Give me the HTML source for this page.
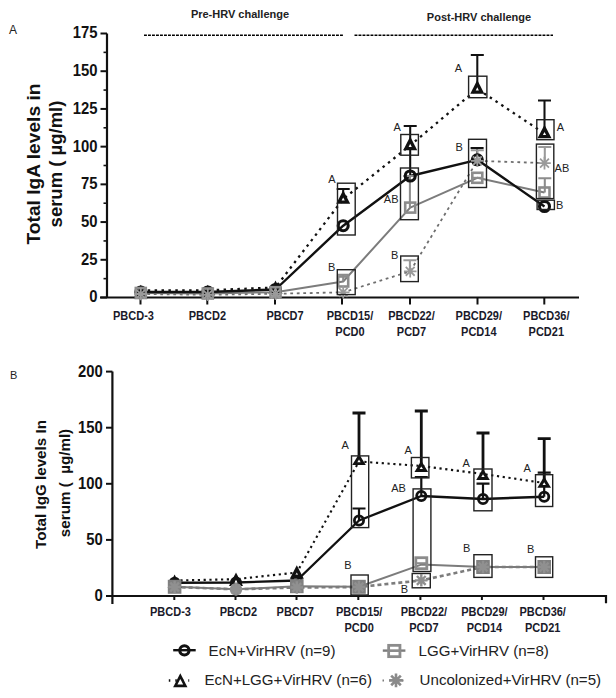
<!DOCTYPE html>
<html><head><meta charset="utf-8"><style>
html,body{margin:0;padding:0;background:#fff;}
body{width:616px;height:698px;overflow:hidden;}
svg{display:block;font-family:"Liberation Sans",sans-serif;}
</style></head><body>
<svg width="616" height="698" viewBox="0 0 616 698">
<rect width="616" height="698" fill="#fff"/>
<path d="M107 33.5V297.5M100 297.5H579" stroke="#111" stroke-width="2.2" fill="none"/>
<path d="M100.5 297.5H107" stroke="#111" stroke-width="2"/>
<text transform="translate(97.4,302.4) scale(0.9,1)" font-size="16.5" text-anchor="end" fill="#111" font-weight="bold">0</text>
<path d="M100.5 259.79H107" stroke="#111" stroke-width="2"/>
<text transform="translate(97.4,264.69) scale(0.9,1)" font-size="16.5" text-anchor="end" fill="#111" font-weight="bold">25</text>
<path d="M100.5 222.07H107" stroke="#111" stroke-width="2"/>
<text transform="translate(97.4,226.97) scale(0.9,1)" font-size="16.5" text-anchor="end" fill="#111" font-weight="bold">50</text>
<path d="M100.5 184.36H107" stroke="#111" stroke-width="2"/>
<text transform="translate(97.4,189.26) scale(0.9,1)" font-size="16.5" text-anchor="end" fill="#111" font-weight="bold">75</text>
<path d="M100.5 146.64H107" stroke="#111" stroke-width="2"/>
<text transform="translate(97.4,151.54) scale(0.9,1)" font-size="16.5" text-anchor="end" fill="#111" font-weight="bold">100</text>
<path d="M100.5 108.93H107" stroke="#111" stroke-width="2"/>
<text transform="translate(97.4,113.83) scale(0.9,1)" font-size="16.5" text-anchor="end" fill="#111" font-weight="bold">125</text>
<path d="M100.5 71.21H107" stroke="#111" stroke-width="2"/>
<text transform="translate(97.4,76.11) scale(0.9,1)" font-size="16.5" text-anchor="end" fill="#111" font-weight="bold">150</text>
<path d="M100.5 33.5H107" stroke="#111" stroke-width="2"/>
<text transform="translate(97.4,38.4) scale(0.9,1)" font-size="16.5" text-anchor="end" fill="#111" font-weight="bold">175</text>
<path d="M103.5 278.64H107" stroke="#111" stroke-width="1.6"/>
<path d="M103.5 240.93H107" stroke="#111" stroke-width="1.6"/>
<path d="M103.5 203.21H107" stroke="#111" stroke-width="1.6"/>
<path d="M103.5 165.5H107" stroke="#111" stroke-width="1.6"/>
<path d="M103.5 127.79H107" stroke="#111" stroke-width="1.6"/>
<path d="M103.5 90.07H107" stroke="#111" stroke-width="1.6"/>
<path d="M103.5 52.36H107" stroke="#111" stroke-width="1.6"/>
<path d="M140.5 297.5V304.5" stroke="#111" stroke-width="2"/>
<path d="M207.3 297.5V304.5" stroke="#111" stroke-width="2"/>
<path d="M275 297.5V304.5" stroke="#111" stroke-width="2"/>
<path d="M342 297.5V304.5" stroke="#111" stroke-width="2"/>
<path d="M410 297.5V304.5" stroke="#111" stroke-width="2"/>
<path d="M477.5 297.5V304.5" stroke="#111" stroke-width="2"/>
<path d="M544.3 297.5V304.5" stroke="#111" stroke-width="2"/>
<text transform="translate(133.5,320.3) scale(0.91,1)" font-size="12.1" text-anchor="middle" fill="#1a1a2a" font-weight="bold">PBCD-3</text>
<text transform="translate(207.4,320.3) scale(0.91,1)" font-size="12.1" text-anchor="middle" fill="#1a1a2a" font-weight="bold">PBCD2</text>
<text transform="translate(285,320.3) scale(0.91,1)" font-size="12.1" text-anchor="middle" fill="#1a1a2a" font-weight="bold">PBCD7</text>
<text transform="translate(350,320.3) scale(0.91,1)" font-size="12.1" text-anchor="middle" fill="#1a1a2a" font-weight="bold">PBCD15/</text>
<text transform="translate(350,335.8) scale(0.91,1)" font-size="12.1" text-anchor="middle" fill="#1a1a2a" font-weight="bold">PCD0</text>
<text transform="translate(411.5,320.3) scale(0.91,1)" font-size="12.1" text-anchor="middle" fill="#1a1a2a" font-weight="bold">PBCD22/</text>
<text transform="translate(411.5,335.8) scale(0.91,1)" font-size="12.1" text-anchor="middle" fill="#1a1a2a" font-weight="bold">PCD7</text>
<text transform="translate(478.8,320.3) scale(0.91,1)" font-size="12.1" text-anchor="middle" fill="#1a1a2a" font-weight="bold">PBCD29/</text>
<text transform="translate(478.8,335.8) scale(0.91,1)" font-size="12.1" text-anchor="middle" fill="#1a1a2a" font-weight="bold">PCD14</text>
<text transform="translate(546.3,320.3) scale(0.91,1)" font-size="12.1" text-anchor="middle" fill="#1a1a2a" font-weight="bold">PBCD36/</text>
<text transform="translate(546.3,335.8) scale(0.91,1)" font-size="12.1" text-anchor="middle" fill="#1a1a2a" font-weight="bold">PCD21</text>
<text transform="translate(40,164) rotate(-90)" font-size="19.2" font-weight="bold" text-anchor="middle" fill="#111">Total IgA levels in</text>
<text transform="translate(62,164) rotate(-90)" font-size="18.5" font-weight="bold" text-anchor="middle" fill="#111">serum ( µg/ml)</text>
<text x="240" y="18" font-size="11" text-anchor="middle" fill="#222" font-weight="bold">Pre-HRV challenge</text>
<text x="479" y="21" font-size="11" text-anchor="middle" fill="#222" font-weight="bold">Post-HRV challenge</text>
<path d="M144 35.3H343M354.5 35.3H553" stroke="#000" stroke-width="1.4" stroke-dasharray="2.9 1.1"/>
<text x="9" y="33.5" font-size="12" text-anchor="start" fill="#222" font-weight="normal">A</text>
<polyline points="140.8,294 207.8,294.8 275.5,293.8 343.2,292.3 410.2,271.3 477.3,160.8 544.5,163.1" fill="none" stroke="#6e6e6e" stroke-width="1.8" stroke-linecap="butt" stroke-linejoin="round" stroke-dasharray="2.8 3.7"/>
<polyline points="140.8,293 207.8,293.5 275.5,292.2 343.2,281.5 410.2,207.6 477.3,177.8 544.5,192.5" fill="none" stroke="#7c7c7c" stroke-width="2" stroke-linecap="butt" stroke-linejoin="round"/>
<polyline points="140.8,290.3 207.8,290.3 275.5,287.5 343.2,199 410.2,145.4 477.3,88.9 544.5,133.5" fill="none" stroke="#111" stroke-width="2.3" stroke-linecap="butt" stroke-linejoin="round" stroke-dasharray="2.5 4.4"/>
<polyline points="140.8,292 207.8,292 275.5,289.5 343.2,225.7 410.2,176 477.3,159.8 544.5,206.5" fill="none" stroke="#111" stroke-width="2.4" stroke-linecap="butt" stroke-linejoin="round"/>
<path d="M343.2 197V189M336.7 189H349.7" stroke="#111" stroke-width="2.05" fill="none"/>
<path d="M410.2 176V126M403.7 126H416.7" stroke="#111" stroke-width="2.05" fill="none"/>
<path d="M477.3 86.9V54.9M470.8 54.9H483.8" stroke="#111" stroke-width="2.05" fill="none"/>
<path d="M544.5 131.5V100.5M538 100.5H551" stroke="#111" stroke-width="2.05" fill="none"/>
<path d="M477.1 159.8V147.9M470.6 147.9H483.6" stroke="#111" stroke-width="2.05" fill="none"/>
<path d="M343.2 281.5V274.8M337.7 274.8H348.7" stroke="#8c8c8c" stroke-width="2.05" fill="none"/>
<path d="M409.9 207.6V176M403.4 176H416.4" stroke="#8c8c8c" stroke-width="2.05" fill="none"/>
<path d="M409.9 271.3V260.3M403.4 260.3H416.4" stroke="#9a9a9a" stroke-width="2.05" fill="none"/>
<path d="M477.3 160.8V150.3M470.8 150.3H483.8" stroke="#9a9a9a" stroke-width="2.05" fill="none"/>
<path d="M544.8 163.1V147M538.3 147H551.3" stroke="#9a9a9a" stroke-width="2.05" fill="none"/>
<path d="M544.8 192.5V178.2M538.3 178.2H551.3" stroke="#8c8c8c" stroke-width="2.05" fill="none"/>
<polygon points="140.8,284.7 147.8,298.3 133.8,298.3" fill="#111"/>
<polygon points="140.8,291.91 142.39,295 139.21,295" fill="#fff"/>
<polygon points="207.8,284.7 214.8,298.3 200.8,298.3" fill="#111"/>
<polygon points="207.8,291.91 209.39,295 206.21,295" fill="#fff"/>
<polygon points="275.5,280.4 282.5,294 268.5,294" fill="#111"/>
<polygon points="275.5,287.61 277.09,290.7 273.91,290.7" fill="#fff"/>
<polygon points="343.2,190.2 350.2,203.8 336.2,203.8" fill="#111"/>
<polygon points="343.2,197.41 344.79,200.5 341.61,200.5" fill="#fff"/>
<polygon points="410.2,136.6 417.2,150.2 403.2,150.2" fill="#111"/>
<polygon points="410.2,143.81 411.79,146.9 408.61,146.9" fill="#fff"/>
<polygon points="477.3,80.1 484.3,93.7 470.3,93.7" fill="#111"/>
<polygon points="477.3,87.31 478.89,90.4 475.71,90.4" fill="#fff"/>
<polygon points="544.5,124.7 551.5,138.3 537.5,138.3" fill="#111"/>
<polygon points="544.5,131.91 546.09,135 542.91,135" fill="#fff"/>
<circle cx="140.8" cy="292" r="5.0" fill="none" stroke="#111" stroke-width="3.1"/>
<circle cx="207.8" cy="292" r="5.0" fill="none" stroke="#111" stroke-width="3.1"/>
<circle cx="275.5" cy="289.5" r="5.0" fill="none" stroke="#111" stroke-width="3.1"/>
<circle cx="343.2" cy="225.7" r="5.0" fill="none" stroke="#111" stroke-width="3.1"/>
<circle cx="410.2" cy="176" r="5.0" fill="none" stroke="#111" stroke-width="3.1"/>
<circle cx="477.3" cy="159.8" r="5.0" fill="none" stroke="#111" stroke-width="3.1"/>
<circle cx="544.5" cy="206.5" r="5.0" fill="none" stroke="#111" stroke-width="3.1"/>
<rect x="135.8" y="288" width="10" height="10" fill="none" stroke="#8c8c8c" stroke-width="2.6"/>
<rect x="202.8" y="288.5" width="10" height="10" fill="none" stroke="#8c8c8c" stroke-width="2.6"/>
<rect x="270.5" y="287.2" width="10" height="10" fill="none" stroke="#8c8c8c" stroke-width="2.6"/>
<rect x="338.2" y="276.5" width="10" height="10" fill="none" stroke="#8c8c8c" stroke-width="2.6"/>
<rect x="405.2" y="202.6" width="10" height="10" fill="none" stroke="#8c8c8c" stroke-width="2.6"/>
<rect x="472.3" y="172.8" width="10" height="10" fill="none" stroke="#8c8c8c" stroke-width="2.6"/>
<path d="M472.3 177.8H482.3" stroke="#8c8c8c" stroke-width="2"/>
<rect x="539.5" y="187.5" width="10" height="10" fill="none" stroke="#8c8c8c" stroke-width="2.6"/>
<path d="M134.5 294L147.1 294M136.35 289.55L145.25 298.45M140.8 287.7L140.8 300.3M145.25 289.55L136.35 298.45" stroke="#9a9a9a" stroke-width="1.8" fill="none"/>
<path d="M201.5 294.8L214.1 294.8M203.35 290.35L212.25 299.25M207.8 288.5L207.8 301.1M212.25 290.35L203.35 299.25" stroke="#9a9a9a" stroke-width="1.8" fill="none"/>
<path d="M269.2 293.8L281.8 293.8M271.05 289.35L279.95 298.25M275.5 287.5L275.5 300.1M279.95 289.35L271.05 298.25" stroke="#9a9a9a" stroke-width="1.8" fill="none"/>
<path d="M336.9 292.3L349.5 292.3M338.75 287.85L347.65 296.75M343.2 286L343.2 298.6M347.65 287.85L338.75 296.75" stroke="#9a9a9a" stroke-width="1.8" fill="none"/>
<path d="M403.9 271.3L416.5 271.3M405.75 266.85L414.65 275.75M410.2 265L410.2 277.6M414.65 266.85L405.75 275.75" stroke="#9a9a9a" stroke-width="1.8" fill="none"/>
<path d="M471 160.8L483.6 160.8M472.85 156.35L481.75 165.25M477.3 154.5L477.3 167.1M481.75 156.35L472.85 165.25" stroke="#9a9a9a" stroke-width="1.8" fill="none"/>
<path d="M538.2 163.1L550.8 163.1M540.05 158.65L548.95 167.55M544.5 156.8L544.5 169.4M548.95 158.65L540.05 167.55" stroke="#9a9a9a" stroke-width="1.8" fill="none"/>
<rect x="337.5" y="183.2" width="17.7" height="51.8" fill="none" stroke="#222" stroke-width="1.4"/>
<text x="328.3" y="183.3" font-size="11" text-anchor="start" fill="#222" font-weight="normal">A</text>
<rect x="337.3" y="269.7" width="17.9" height="24.9" fill="none" stroke="#222" stroke-width="1.4"/>
<text x="328" y="271.3" font-size="11" text-anchor="start" fill="#222" font-weight="normal">B</text>
<rect x="400.8" y="134.5" width="17.6" height="20.7" fill="none" stroke="#222" stroke-width="1.4"/>
<text x="393.5" y="130.8" font-size="11" text-anchor="start" fill="#222" font-weight="normal">A</text>
<rect x="400.5" y="168" width="17.9" height="51.7" fill="none" stroke="#222" stroke-width="1.4"/>
<text x="383.8" y="203.2" font-size="11" text-anchor="start" fill="#222" font-weight="normal">AB</text>
<rect x="400.7" y="256" width="17.6" height="25.6" fill="none" stroke="#222" stroke-width="1.4"/>
<text x="391" y="259.4" font-size="11" text-anchor="start" fill="#222" font-weight="normal">B</text>
<rect x="468.6" y="76.2" width="18.3" height="21.5" fill="none" stroke="#222" stroke-width="1.4"/>
<text x="454.8" y="71.8" font-size="11" text-anchor="start" fill="#222" font-weight="normal">A</text>
<rect x="468.6" y="139.3" width="17.9" height="48.2" fill="none" stroke="#222" stroke-width="1.4"/>
<text x="455.5" y="151.4" font-size="11" text-anchor="start" fill="#222" font-weight="normal">B</text>
<rect x="536.8" y="119.7" width="17.2" height="20" fill="none" stroke="#222" stroke-width="1.4"/>
<text x="556.7" y="130.6" font-size="11" text-anchor="start" fill="#222" font-weight="normal">A</text>
<rect x="536.4" y="144.1" width="17.4" height="54.5" fill="none" stroke="#222" stroke-width="1.4"/>
<text x="554.6" y="172.4" font-size="11" text-anchor="start" fill="#222" font-weight="normal">AB</text>
<rect x="537.1" y="200.2" width="17.3" height="9.3" fill="none" stroke="#222" stroke-width="1.4"/>
<text x="556" y="208.9" font-size="11" text-anchor="start" fill="#222" font-weight="normal">B</text>
<path d="M112.4 371.6V604M106 596H606V603.3" stroke="#111" stroke-width="2.2" fill="none"/>
<path d="M106 596H112.4" stroke="#111" stroke-width="2"/>
<text transform="translate(102.8,600.9) scale(0.9,1)" font-size="16.5" text-anchor="end" fill="#111" font-weight="bold">0</text>
<path d="M106 539.9H112.4" stroke="#111" stroke-width="2"/>
<text transform="translate(102.8,544.8) scale(0.9,1)" font-size="16.5" text-anchor="end" fill="#111" font-weight="bold">50</text>
<path d="M106 483.8H112.4" stroke="#111" stroke-width="2"/>
<text transform="translate(102.8,488.7) scale(0.9,1)" font-size="16.5" text-anchor="end" fill="#111" font-weight="bold">100</text>
<path d="M106 427.7H112.4" stroke="#111" stroke-width="2"/>
<text transform="translate(102.8,432.6) scale(0.9,1)" font-size="16.5" text-anchor="end" fill="#111" font-weight="bold">150</text>
<path d="M106 371.6H112.4" stroke="#111" stroke-width="2"/>
<text transform="translate(102.8,376.5) scale(0.9,1)" font-size="16.5" text-anchor="end" fill="#111" font-weight="bold">200</text>
<path d="M174.3 596V600" stroke="#111" stroke-width="2"/>
<path d="M235.5 596V600" stroke="#111" stroke-width="2"/>
<path d="M296.5 596V600" stroke="#111" stroke-width="2"/>
<path d="M358.3 596V600" stroke="#111" stroke-width="2"/>
<path d="M420.4 596V600" stroke="#111" stroke-width="2"/>
<path d="M481.9 596V600" stroke="#111" stroke-width="2"/>
<path d="M543.5 596V600" stroke="#111" stroke-width="2"/>
<text transform="translate(170.5,616.3) scale(0.91,1)" font-size="12.1" text-anchor="middle" fill="#1a1a2a" font-weight="bold">PBCD-3</text>
<text transform="translate(238.4,616.3) scale(0.91,1)" font-size="12.1" text-anchor="middle" fill="#1a1a2a" font-weight="bold">PBCD2</text>
<text transform="translate(295.2,616.3) scale(0.91,1)" font-size="12.1" text-anchor="middle" fill="#1a1a2a" font-weight="bold">PBCD7</text>
<text transform="translate(359.2,616.3) scale(0.91,1)" font-size="12.1" text-anchor="middle" fill="#1a1a2a" font-weight="bold">PBCD15/</text>
<text transform="translate(359.2,631.6) scale(0.91,1)" font-size="12.1" text-anchor="middle" fill="#1a1a2a" font-weight="bold">PCD0</text>
<text transform="translate(423.9,616.3) scale(0.91,1)" font-size="12.1" text-anchor="middle" fill="#1a1a2a" font-weight="bold">PBCD22/</text>
<text transform="translate(423.9,631.6) scale(0.91,1)" font-size="12.1" text-anchor="middle" fill="#1a1a2a" font-weight="bold">PCD7</text>
<text transform="translate(484.4,616.3) scale(0.91,1)" font-size="12.1" text-anchor="middle" fill="#1a1a2a" font-weight="bold">PBCD29/</text>
<text transform="translate(484.4,631.6) scale(0.91,1)" font-size="12.1" text-anchor="middle" fill="#1a1a2a" font-weight="bold">PCD14</text>
<text transform="translate(542.7,616.3) scale(0.91,1)" font-size="12.1" text-anchor="middle" fill="#1a1a2a" font-weight="bold">PBCD36/</text>
<text transform="translate(542.7,631.6) scale(0.91,1)" font-size="12.1" text-anchor="middle" fill="#1a1a2a" font-weight="bold">PCD21</text>
<text transform="translate(46.2,484.5) rotate(-90)" font-size="15.2" font-weight="bold" text-anchor="middle" fill="#111">Total IgG levels In</text>
<text transform="translate(70.4,483) rotate(-90)" font-size="15.2" font-weight="bold" text-anchor="middle" fill="#111" style="white-space:pre">serum (  µg/ml)</text>
<text x="10" y="378.5" font-size="11" text-anchor="start" fill="#222" font-weight="normal">B</text>
<polyline points="174.6,587 236,589.3 296.8,587.5 359,587 421.3,580.4 483,567 544.2,567" fill="none" stroke="#7c7c7c" stroke-width="2.6" stroke-linecap="butt" stroke-linejoin="round" stroke-dasharray="4 3"/>
<polyline points="174.6,586.8 236,589.3 296.8,586.2 359,586.8 421.3,564.6 483,567 544.2,567" fill="none" stroke="#7c7c7c" stroke-width="2" stroke-linecap="butt" stroke-linejoin="round"/>
<polyline points="174.6,580.5 236,579.2 296.8,572.5 359,461.5 421.3,466 483,474 544.2,483" fill="none" stroke="#111" stroke-width="2.1" stroke-linecap="butt" stroke-linejoin="round" stroke-dasharray="2.2 3.6"/>
<polyline points="174.6,582.7 236,582.5 296.8,580.5 359,520.5 421.3,496 483,499 544.2,496.7" fill="none" stroke="#111" stroke-width="2.4" stroke-linecap="butt" stroke-linejoin="round"/>
<path d="M359 459.5V413M352.5 413H365.5" stroke="#111" stroke-width="2.8" fill="none"/>
<path d="M421.3 466.4V411M414.8 411H427.8" stroke="#111" stroke-width="2.8" fill="none"/>
<path d="M483 474.3V433M476.5 433H489.5" stroke="#111" stroke-width="2.8" fill="none"/>
<path d="M544.2 482.2V438.6M537.7 438.6H550.7" stroke="#111" stroke-width="2.8" fill="none"/>
<path d="M359 520.5V508.5M352.5 508.5H365.5" stroke="#111" stroke-width="2.2" fill="none"/>
<path d="M421.3 496V477M414.8 477H427.8" stroke="#111" stroke-width="2.2" fill="none"/>
<path d="M483 499V483.6M476.5 483.6H489.5" stroke="#111" stroke-width="2.2" fill="none"/>
<path d="M544.2 496.7V472.7M537.7 472.7H550.7" stroke="#111" stroke-width="2.2" fill="none"/>
<polygon points="174.6,574.5 181.6,588.1 167.6,588.1" fill="#111"/>
<polygon points="174.6,581.71 176.19,584.8 173.01,584.8" fill="#fff"/>
<polygon points="236,572.5 243,586.1 229,586.1" fill="#111"/>
<polygon points="236,579.71 237.59,582.8 234.41,582.8" fill="#fff"/>
<polygon points="296.8,565.2 303.8,578.8 289.8,578.8" fill="#111"/>
<polygon points="296.8,572.41 298.39,575.5 295.21,575.5" fill="#fff"/>
<polygon points="359,453.9 365.8,465.1 352.2,465.1" fill="#111"/>
<polygon points="359,459.49 360.65,462.2 357.35,462.2" fill="#fff"/>
<polygon points="421.3,460.8 428.1,472 414.5,472" fill="#111"/>
<polygon points="421.3,466.39 422.95,469.1 419.65,469.1" fill="#fff"/>
<polygon points="483,468.7 489.8,479.9 476.2,479.9" fill="#111"/>
<polygon points="483,474.29 484.65,477 481.35,477" fill="#fff"/>
<polygon points="544.2,476.6 551,487.8 537.4,487.8" fill="#111"/>
<polygon points="544.2,482.19 545.85,484.9 542.55,484.9" fill="#fff"/>
<circle cx="174.6" cy="582.7" r="4.6" fill="none" stroke="#111" stroke-width="2.8"/>
<circle cx="236" cy="582.5" r="4.6" fill="none" stroke="#111" stroke-width="2.8"/>
<circle cx="296.8" cy="580.5" r="4.6" fill="none" stroke="#111" stroke-width="2.8"/>
<circle cx="359" cy="520.5" r="4.6" fill="none" stroke="#111" stroke-width="2.8"/>
<circle cx="421.3" cy="496" r="4.6" fill="none" stroke="#111" stroke-width="2.8"/>
<circle cx="483" cy="499" r="4.6" fill="none" stroke="#111" stroke-width="2.8"/>
<circle cx="544.2" cy="496.7" r="4.6" fill="none" stroke="#111" stroke-width="2.8"/>
<rect x="167.8" y="579.8" width="13.6" height="14" fill="#808080"/>
<circle cx="236" cy="589.3" r="6.2" fill="#8c8c8c"/>
<rect x="290" y="579.2" width="13.6" height="14" fill="#808080"/>
<rect x="352.2" y="579.8" width="13.6" height="14" fill="#808080"/>
<rect x="415.8" y="557.7" width="11" height="11" fill="none" stroke="#8c8c8c" stroke-width="2.8"/>
<path d="M415.8 563.2H426.8" stroke="#8c8c8c" stroke-width="2"/>
<rect x="476.2" y="560" width="13.6" height="14" fill="#808080"/>
<rect x="537.4" y="560" width="13.6" height="14" fill="#808080"/>
<path d="M168.4 587L180.8 587M170.22 582.62L178.98 591.38M174.6 580.8L174.6 593.2M178.98 582.62L170.22 591.38" stroke="#909090" stroke-width="2.4" fill="none"/>
<path d="M229.8 589.3L242.2 589.3M231.62 584.92L240.38 593.68M236 583.1L236 595.5M240.38 584.92L231.62 593.68" stroke="#909090" stroke-width="2.4" fill="none"/>
<path d="M290.6 587.5L303 587.5M292.42 583.12L301.18 591.88M296.8 581.3L296.8 593.7M301.18 583.12L292.42 591.88" stroke="#909090" stroke-width="2.4" fill="none"/>
<path d="M352.8 587L365.2 587M354.62 582.62L363.38 591.38M359 580.8L359 593.2M363.38 582.62L354.62 591.38" stroke="#909090" stroke-width="2.4" fill="none"/>
<path d="M415.1 580.4L427.5 580.4M416.92 576.02L425.68 584.78M421.3 574.2L421.3 586.6M425.68 576.02L416.92 584.78" stroke="#8e8e8e" stroke-width="2.4" fill="none"/>
<path d="M476.8 567L489.2 567M478.62 562.62L487.38 571.38M483 560.8L483 573.2M487.38 562.62L478.62 571.38" stroke="#909090" stroke-width="2.4" fill="none"/>
<path d="M538 567L550.4 567M539.82 562.62L548.58 571.38M544.2 560.8L544.2 573.2M548.58 562.62L539.82 571.38" stroke="#909090" stroke-width="2.4" fill="none"/>
<rect x="351.5" y="455.9" width="17.2" height="71.7" fill="none" stroke="#222" stroke-width="1.4"/>
<text x="341.4" y="449.3" font-size="11" text-anchor="start" fill="#222" font-weight="normal">A</text>
<rect x="351" y="575" width="17.2" height="20" fill="none" stroke="#222" stroke-width="1.4"/>
<text x="344.3" y="569.2" font-size="11" text-anchor="start" fill="#222" font-weight="normal">B</text>
<rect x="411.4" y="457.5" width="17.5" height="20.4" fill="none" stroke="#222" stroke-width="1.4"/>
<text x="404.4" y="453.9" font-size="11" text-anchor="start" fill="#222" font-weight="normal">A</text>
<rect x="413.1" y="488.9" width="17.8" height="82.6" fill="none" stroke="#222" stroke-width="1.4"/>
<text x="391.2" y="491.8" font-size="11" text-anchor="start" fill="#222" font-weight="normal">AB</text>
<rect x="412.2" y="573.5" width="18.1" height="14.3" fill="none" stroke="#222" stroke-width="1.4"/>
<text x="400.7" y="592.7" font-size="11" text-anchor="start" fill="#222" font-weight="normal">B</text>
<rect x="473.9" y="469" width="18.1" height="41.8" fill="none" stroke="#222" stroke-width="1.4"/>
<text x="462.4" y="467" font-size="11" text-anchor="start" fill="#222" font-weight="normal">A</text>
<rect x="473.9" y="554.7" width="18.1" height="22.7" fill="none" stroke="#222" stroke-width="1.4"/>
<text x="462.9" y="551.6" font-size="11" text-anchor="start" fill="#222" font-weight="normal">B</text>
<rect x="535.5" y="474.7" width="17.2" height="31.8" fill="none" stroke="#222" stroke-width="1.4"/>
<text x="523.5" y="472.4" font-size="11" text-anchor="start" fill="#222" font-weight="normal">A</text>
<rect x="535.5" y="556.8" width="17.2" height="20.6" fill="none" stroke="#222" stroke-width="1.4"/>
<text x="526.9" y="552.9" font-size="11" text-anchor="start" fill="#222" font-weight="normal">B</text>
<path d="M173.2 650.2H195.7" stroke="#111" stroke-width="2.4"/>
<circle cx="184.4" cy="650.4" r="4.6" fill="none" stroke="#111" stroke-width="3.1"/>
<text x="208.6" y="655.5" font-size="15.1" text-anchor="start" fill="#222" font-weight="normal">EcN+VirHRV (n=9)</text>
<path d="M382.8 650.6H405.4" stroke="#7c7c7c" stroke-width="2.4"/>
<rect x="388.65" y="645.35" width="11.3" height="11.3" fill="none" stroke="#8c8c8c" stroke-width="2.8"/>
<path d="M388.65 651H399.95" stroke="#8c8c8c" stroke-width="2"/>
<text x="418.5" y="655.5" font-size="15.1" text-anchor="start" fill="#222" font-weight="normal">LGG+VirHRV (n=8)</text>
<path d="M168.8 680.5H189.2" stroke="#111" stroke-width="2.4" stroke-dasharray="1.5 5"/>
<polygon points="180.3,673.25 187.45,687.15 173.15,687.15" fill="#111"/>
<polygon points="180.3,678.93 183.19,684.55 177.41,684.55" fill="#fff"/>
<text x="204.4" y="685" font-size="15.1" text-anchor="start" fill="#222" font-weight="normal">EcN+LGG+VirHRV (n=6)</text>
<path d="M382.5 680.4H407" stroke="#7c7c7c" stroke-width="2" stroke-dasharray="1.5 5"/>
<path d="M389.2 680.4L402.8 680.4M391.19 675.59L400.81 685.21M396 673.6L396 687.2M400.81 675.59L391.19 685.21" stroke="#8a8a8a" stroke-width="2.6" fill="none"/>
<text x="419.6" y="685" font-size="15.1" text-anchor="start" fill="#222" font-weight="normal">Uncolonized+VirHRV (n=5)</text>
</svg>
</body></html>
